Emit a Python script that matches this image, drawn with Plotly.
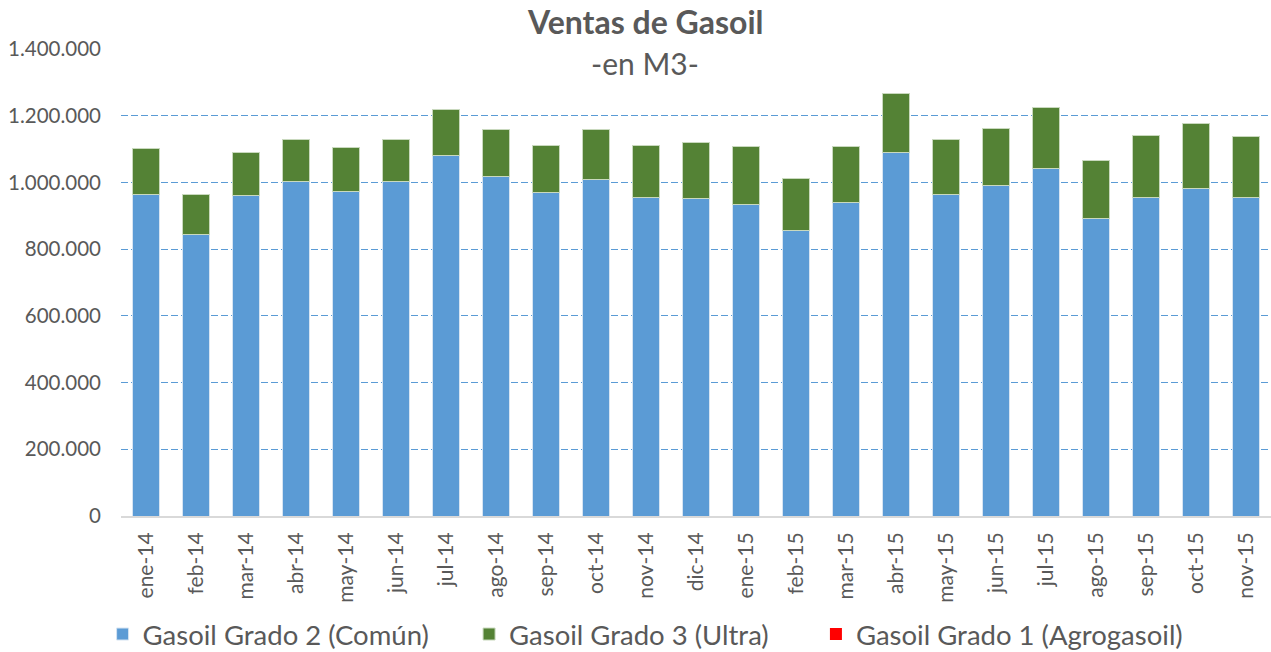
import plotly.graph_objects as go

months = ["ene-14","feb-14","mar-14","abr-14","may-14","jun-14","jul-14","ago-14","sep-14","oct-14","nov-14","dic-14",
          "ene-15","feb-15","mar-15","abr-15","may-15","jun-15","jul-15","ago-15","sep-15","oct-15","nov-15"]
totals = [1103000, 965000, 1091000, 1129000, 1104000, 1129000, 1220000, 1159000, 1111000, 1159000, 1111000, 1120000,
          1107000, 1013000, 1107000, 1266000, 1129000, 1163000, 1224000, 1065000, 1141000, 1176000, 1138000]
grado2 = [965000, 845000, 962000, 1004000, 974000, 1004000, 1082000, 1017000, 970000, 1009000, 956000, 951000,
          935000, 857000, 939000, 1090000, 965000, 991000, 1042000, 893000, 956000, 982000, 956000]
grado3 = [t - g for t, g in zip(totals, grado2)]
grado1 = [0] * len(months)
series_names = ["Gasoil Grado 2 (Común)", "Gasoil Grado 3 (Ultra)", "Gasoil Grado 1 (Agrogasoil)"]

FONT = "Lato"
GRAY = "#595959"
NB = "\u00a0"

fig = go.Figure()
fig.add_bar(x=months, y=grado2, name=series_names[0] + NB * 5, marker=dict(color="#5B9BD5", line=dict(color="#D6E4F2", width=1)))
fig.add_bar(x=months, y=grado3, name=series_names[1] + NB * 6, marker=dict(color="#548235", line=dict(color="#C9D9BE", width=1)))
fig.add_bar(x=months, y=grado1, name=series_names[2], marker=dict(color="#FF0000", line=dict(width=0)))

fig.update_layout(
    barmode="stack",
    bargap=0.46,
    width=1271, height=652,
    margin=dict(l=121, r=0, t=49, b=136, autoexpand=False),
    plot_bgcolor="white", paper_bgcolor="white",
    separators=",.",
    font=dict(family=FONT, color=GRAY, size=20),
    showlegend=True,
    legend=dict(orientation="h", x=-0.016, xanchor="left", y=-0.253, yanchor="middle",
                font=dict(size=27.5, color=GRAY), traceorder="normal", itemwidth=30),
    annotations=[
        dict(text="<b>Ventas de Gasoil</b>", xref="paper", yref="paper", x=0.456, y=1.059, xanchor="center", yanchor="middle",
             showarrow=False, font=dict(size=32, color=GRAY, family=FONT)),
        dict(text="-en M3-", xref="paper", yref="paper", x=0.456, y=0.969, xanchor="center", yanchor="middle",
             showarrow=False, font=dict(size=30, color=GRAY, family=FONT)),
    ],
)
fig.update_yaxes(range=[0, 1400000], dtick=200000, tickformat=",d", showgrid=True,
                 gridcolor="#5B9BD5", griddash="7px,3px", gridwidth=1.2, zeroline=False,
                 showline=False, ticks="", ticklabelstandoff=19, tickfont=dict(size=20.5, color=GRAY))
fig.update_xaxes(tickangle=-90, showline=True, linecolor="#D9D9D9", linewidth=2, ticks="",
                 tickfont=dict(size=21, color=GRAY), ticklabelstandoff=6)

fig.write_html("out.html", config={"displayModeBar": False},
               post_script="document.body.style.margin='0';")
